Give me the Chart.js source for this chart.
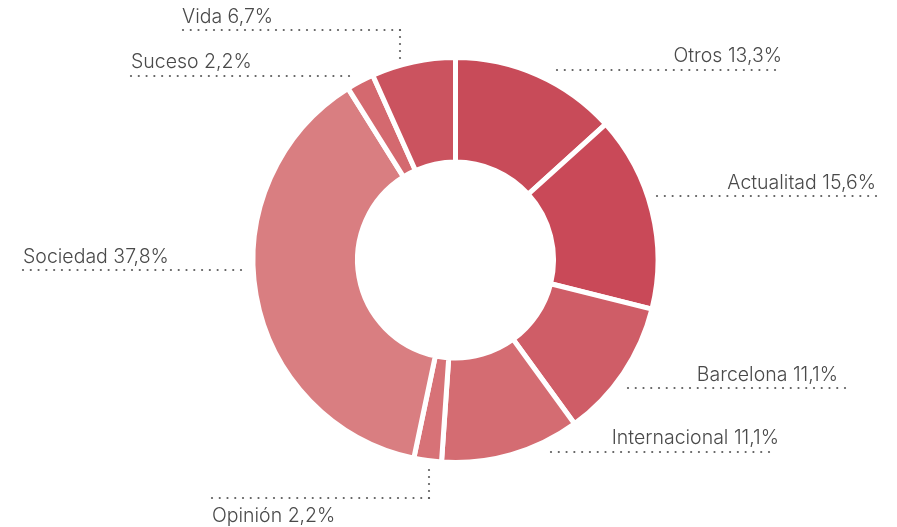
<!DOCTYPE html>
<html>
<head>
<meta charset="utf-8">
<script src="https://cdn.jsdelivr.net/npm/chart.js@4/dist/chart.umd.min.js"></script>
<style>
  html, body { margin: 0; padding: 0; background: #ffffff; }
  #wrap { width: 897px; height: 527px; position: relative; }
</style>
</head>
<body>
<div id="wrap"><canvas id="c" width="897" height="527"></canvas></div>
<script>
// ---- data ----
const categories = ['Otros', 'Actualitad', 'Barcelona', 'Internacional', 'Opinión', 'Sociedad', 'Suceso', 'Vida'];
const shares = [13.3, 15.6, 11.1, 11.1, 2.2, 37.8, 2.2, 6.7];
const valueLabels = ['13,3%', '15,6%', '11,1%', '11,1%', '2,2%', '37,8%', '2,2%', '6,7%'];
const sliceColors = ['#c84b59', '#c94958', '#cf5d67', '#d46c72', '#d77277', '#d97e81', '#d4696f', '#cb535f'];

// label leader layout, relative to doughnut centre (px)
const leaderLayout = [
  { lineY: -190, x1: 101.5, x2: 319.5, textX: 326.5, textAlign: 'right', textY: -204 },
  { lineY: -64,  x1: 201.5, x2: 420.5, textX: 420.5, textAlign: 'right', textY: -77 },
  { lineY: 128,  x1: 172.5, x2: 389.5, textX: 382.5, textAlign: 'right', textY: 115 },
  { lineY: 192,  x1: 95.5,  x2: 313.5, textX: 323.5, textAlign: 'right', textY: 178 },
  { lineY: 238,  x1: -243.5, x2: -26.5, textX: -243.5, textAlign: 'left', textY: 256, vx: -26.5, vy: 210 },
  { lineY: 10,   x1: -432.5, x2: -214.5, textX: -432.5, textAlign: 'left', textY: -3 },
  { lineY: -184, x1: -324.5, x2: -106.5, textX: -324.5, textAlign: 'left', textY: -198 },
  { lineY: -230, x1: -272.5, x2: -55.5, textX: -273.5, textAlign: 'left', textY: -243, vx: -55.5, vy: -202 }
];

const leaderPlugin = {
  id: 'leaders',
  afterDraw(chart) {
    const ctx = chart.ctx;
    const arc = chart.getDatasetMeta(0).data[0];
    const cx = arc.x, cy = arc.y;
    const dotR = 1.1, step = 7.8;
    ctx.save();
    ctx.fillStyle = '#5c5c5c';
    const dotLine = (xa, ya, xb, yb) => {
      const len = Math.hypot(xb - xa, yb - ya);
      const n = Math.max(1, Math.round(len / step));
      for (let i = 0; i <= n; i++) {
        const t = i / n;
        ctx.beginPath();
        ctx.arc(xa + (xb - xa) * t, ya + (yb - ya) * t, dotR, 0, Math.PI * 2);
        ctx.fill();
      }
    };
    leaderLayout.forEach((L) => {
      dotLine(cx + L.x1, cy + L.lineY, cx + L.x2, cy + L.lineY);
      if (L.vx !== undefined) {
        dotLine(cx + L.vx, cy + L.vy, cx + L.vx, cy + L.lineY);
      }
    });
    ctx.fillStyle = '#4a4a4a';
    ctx.font = '300 19.5px Inter, "Liberation Sans", sans-serif';
    ctx.textBaseline = 'middle';
    leaderLayout.forEach((L, i) => {
      ctx.textAlign = L.textAlign;
      ctx.fillText(categories[i] + ' ' + valueLabels[i], cx + L.textX, cy + L.textY);
    });
    ctx.restore();
  }
};

new Chart(document.getElementById('c'), {
  type: 'doughnut',
  data: {
    labels: categories,
    datasets: [{
      data: shares,
      backgroundColor: sliceColors,
      borderColor: '#ffffff',
      borderWidth: 5,
      hoverOffset: 0
    }]
  },
  options: {
    responsive: false,
    animation: false,
    cutout: '48.4%',
    layout: { padding: { left: 250, right: 236, top: 55, bottom: 62 } },
    plugins: { legend: { display: false }, tooltip: { enabled: false } }
  },
  plugins: [leaderPlugin]
});
</script>
</body>
</html>
